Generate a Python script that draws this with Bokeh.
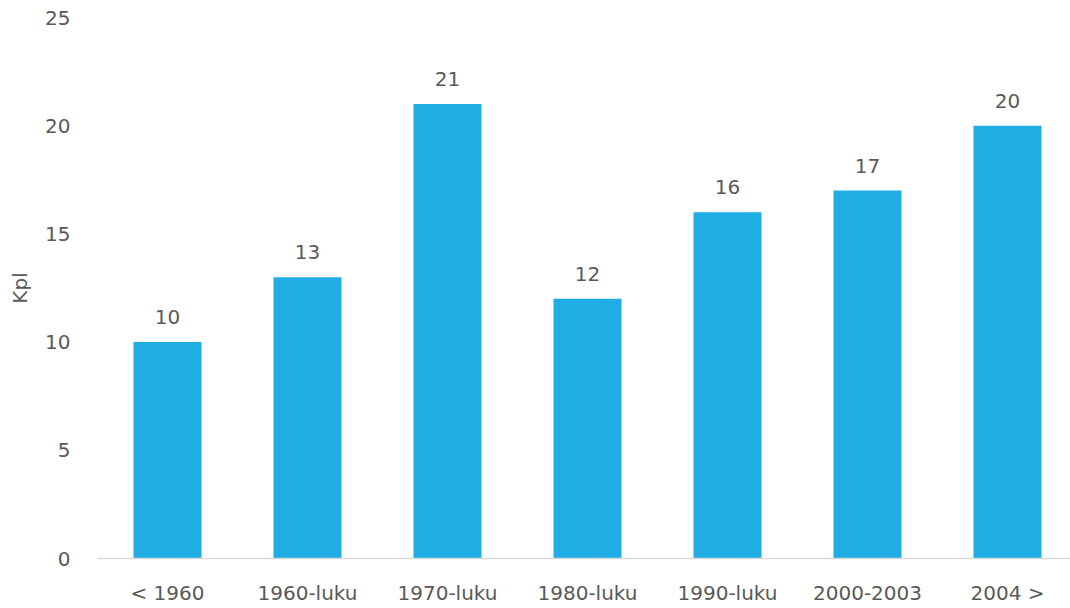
from bokeh.plotting import figure
from bokeh.models import ColumnDataSource, FixedTicker, Range1d, LabelSet
from bokeh.core.properties import value
from bokeh.embed import file_html
from bokeh.resources import INLINE

categories = ["< 1960", "1960-luku", "1970-luku", "1980-luku", "1990-luku", "2000-2003", "2004 >"]
values = [10, 13, 21, 12, 16, 17, 20]
y_ticks = [0, 5, 10, 15, 20, 25]

FONT = "DejaVu Sans"
TXT = "#595959"
BAR = "#1FADE4"
FS = "20px"

xs = list(range(len(categories)))
src = ColumnDataSource(dict(x=xs, top=values, lab=[str(v) for v in values]))

p = figure(width=1070, height=608, output_backend="svg", toolbar_location=None,
           x_range=Range1d(-0.5, 6.45), y_range=Range1d(0, 25),
           min_border_left=97, min_border_right=0, min_border_top=17, min_border_bottom=50)
p.outline_line_color = None
p.xgrid.visible = False
p.ygrid.visible = False

p.vbar(x="x", top="top", width=68/140, source=src, color=BAR, line_color=None)

labels = LabelSet(x="x", y="top", text="lab", source=src, text_align="center",
                  text_baseline="middle", y_offset=25, text_font=value(FONT),
                  text_font_size=FS, text_color=TXT)
p.add_layout(labels)

p.xaxis.ticker = FixedTicker(ticks=xs)
p.xaxis.major_label_overrides = {i: c for i, c in enumerate(categories)}
p.xaxis.axis_line_color = "#D9D9D9"
p.xaxis.axis_line_width = 1.5
p.xaxis.major_tick_line_color = None
p.xaxis.minor_tick_line_color = None
p.xaxis.major_tick_out = 0
p.xaxis.major_tick_in = 0
p.xaxis.major_label_standoff = 22
p.xaxis.major_label_text_font = FONT
p.xaxis.major_label_text_font_size = FS
p.xaxis.major_label_text_color = TXT

p.yaxis.ticker = FixedTicker(ticks=y_ticks)
p.yaxis.axis_line_color = None
p.yaxis.major_tick_line_color = None
p.yaxis.minor_tick_line_color = None
p.yaxis.major_tick_out = 0
p.yaxis.major_tick_in = 0
p.yaxis.major_label_standoff = 27
p.yaxis.major_label_text_font = FONT
p.yaxis.major_label_text_font_size = FS
p.yaxis.major_label_text_color = TXT
p.yaxis.axis_label = "Kpl"
p.yaxis.axis_label_standoff = 10
p.yaxis.axis_label_text_font = FONT
p.yaxis.axis_label_text_font_size = FS
p.yaxis.axis_label_text_font_style = "normal"
p.yaxis.axis_label_text_color = TXT

open("out.html", "w").write(file_html(p, INLINE))
